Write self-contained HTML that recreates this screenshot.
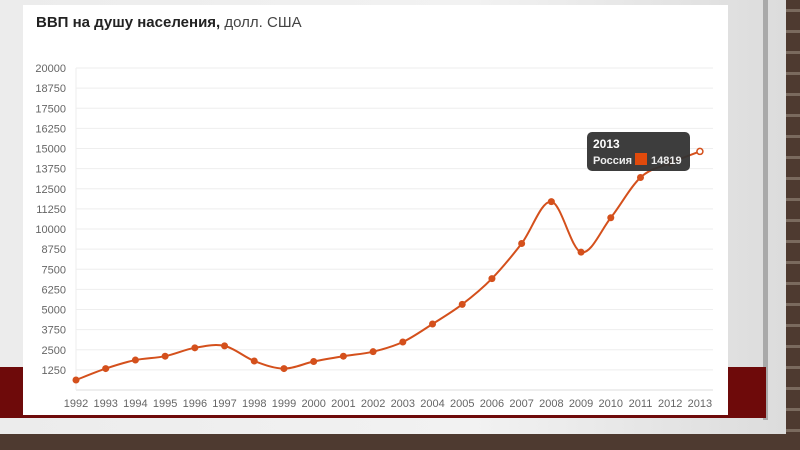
<!DOCTYPE html>
<html><head><meta charset="utf-8"><style>
body{margin:0;width:800px;height:450px;overflow:hidden;background:#4a3a32;position:relative;font-family:"Liberation Sans",sans-serif}
#brick{position:absolute;left:0;top:0;width:800px;height:450px;background:repeating-linear-gradient(0deg,#4e3a30 0 18px,#7a6a5e 18px 21px),#4e3a30}
#outer{position:absolute;left:0;top:0;width:786px;height:434px;background:linear-gradient(90deg,#ececec,#f2f2f2 60%,#dcdcdc)}
#frame{position:absolute;left:0;top:0;width:768px;height:420px;border-right:5px solid #a9a9a9;box-sizing:border-box}
#red{position:absolute;left:0;top:367px;width:766px;height:51px;background:#6e0a0a}
#white{position:absolute;left:23px;top:5px;width:705px;height:410px;background:#fff}
</style></head><body>
<div id="brick"></div><div id="outer"></div><div id="frame"></div><div id="red"></div><div id="white"></div>
<svg width="800" height="450" style="position:absolute;left:0;top:0" id="s">
<text x="36" y="27" font-size="15" fill="#222"><tspan font-weight="bold">ВВП на душу населения,</tspan><tspan fill="#444"> долл. США</tspan></text>
<g id="g"></g>
</svg>
<script>
var g=document.getElementById('g'),h='';
function Y(v){return 390-v*0.01610;}
for(var i=1;i<=16;i++){var v=i*1250,y=Y(v);h+='<line x1="76" x2="713" y1="'+y+'" y2="'+y+'" stroke="#eee"/>';h+='<text x="66" y="'+(y+4)+'" font-size="11" fill="#666" text-anchor="end">'+v+'</text>';}
h+='<line x1="76" x2="713" y1="390" y2="390" stroke="#ddd"/><line x1="76" x2="76" y1="68" y2="390" stroke="#eee"/>';
var d=[620,1330,1860,2100,2620,2740,1800,1330,1770,2100,2380,2980,4100,5320,6920,9100,11700,8560,10700,13200,14100,14819];
var P=d.map(function(v,i){return [76+i*29.71,Y(v)];});
for(var i=0;i<22;i++){h+='<text x="'+P[i][0]+'" y="407" font-size="11" fill="#666" text-anchor="middle">'+(1992+i)+'</text>';}
var p='M'+P[0][0]+','+P[0][1];
for(var i=0;i<21;i++){var a=P[i-1]||P[i],b=P[i],c=P[i+1],e=P[i+2]||c;
p+=' C'+(b[0]+(c[0]-a[0])/6)+','+(b[1]+(c[1]-a[1])/6)+' '+(c[0]-(e[0]-b[0])/6)+','+(c[1]-(e[1]-b[1])/6)+' '+c[0]+','+c[1];}
h+='<path d="'+p+'" fill="none" stroke="#d4501c" stroke-width="2"/>';
for(var i=0;i<21;i++)h+='<circle cx="'+P[i][0]+'" cy="'+P[i][1]+'" r="3.5" fill="#d4501c"/>';
h+='<circle cx="'+P[21][0]+'" cy="'+P[21][1]+'" r="3" fill="#fff" stroke="#d4501c" stroke-width="1.5"/>';
h+='<rect x="587" y="132" width="103" height="39" rx="5" fill="#333" opacity="0.95"/>';
h+='<text x="593" y="148" font-size="12" font-weight="bold" fill="#fff">2013</text>';
h+='<text x="593" y="164" font-size="11" font-weight="bold" fill="#eee">Россия</text>';
h+='<rect x="635" y="153" width="12" height="12" fill="#e04a0c"/>';
h+='<text x="651" y="164" font-size="11" font-weight="bold" fill="#eee">14819</text>';
g.innerHTML=h;
</script>
</body></html>
